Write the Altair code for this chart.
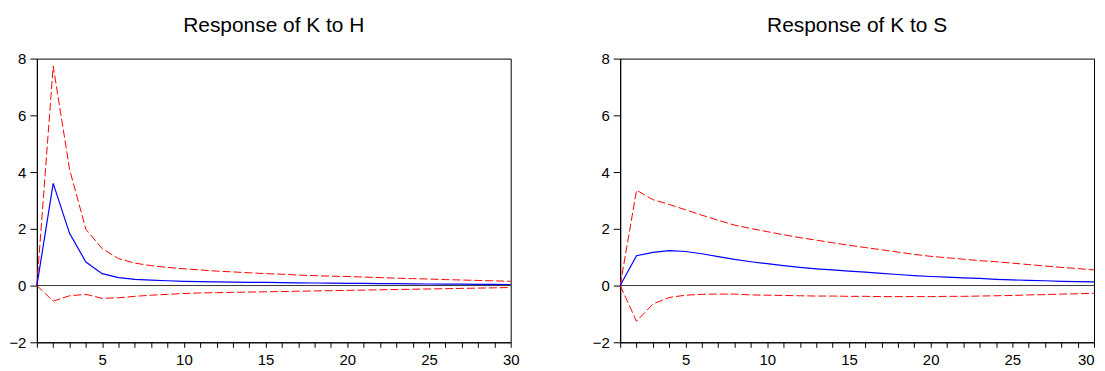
import altair as alt
import pandas as pd

periods = list(range(1, 31))

# Response of K to H
kh_resp = [0.00, 3.60, 1.84, 0.83, 0.42, 0.28, 0.22, 0.19, 0.17, 0.15,
           0.14, 0.13, 0.12, 0.115, 0.11, 0.10, 0.095, 0.09, 0.085, 0.08,
           0.075, 0.07, 0.065, 0.06, 0.055, 0.05, 0.047, 0.043, 0.04, 0.037]
kh_hi = [0.00, 7.74, 4.10, 1.98, 1.30, 0.95, 0.79, 0.70, 0.64, 0.59,
         0.55, 0.51, 0.48, 0.45, 0.42, 0.40, 0.37, 0.35, 0.33, 0.32,
         0.30, 0.28, 0.26, 0.245, 0.23, 0.21, 0.195, 0.18, 0.165, 0.15]
kh_lo = [0.00, -0.55, -0.36, -0.31, -0.45, -0.43, -0.38, -0.34, -0.31, -0.28,
         -0.26, -0.25, -0.24, -0.23, -0.22, -0.21, -0.20, -0.19, -0.18, -0.17,
         -0.16, -0.15, -0.14, -0.13, -0.12, -0.11, -0.10, -0.09, -0.08, -0.07]

# Response of K to S
ks_resp = [0.00, 1.05, 1.17, 1.23, 1.20, 1.12, 1.02, 0.92, 0.84, 0.77,
           0.70, 0.64, 0.59, 0.55, 0.51, 0.47, 0.43, 0.39, 0.35, 0.32,
           0.30, 0.27, 0.25, 0.22, 0.20, 0.18, 0.17, 0.15, 0.14, 0.13]
ks_hi = [0.00, 3.36, 3.03, 2.86, 2.67, 2.48, 2.30, 2.13, 2.01, 1.90,
         1.79, 1.69, 1.60, 1.51, 1.42, 1.34, 1.26, 1.18, 1.10, 1.03,
         0.98, 0.93, 0.88, 0.84, 0.79, 0.74, 0.69, 0.64, 0.60, 0.55]
ks_lo = [0.00, -1.26, -0.65, -0.42, -0.34, -0.31, -0.30, -0.30, -0.33, -0.34,
         -0.35, -0.36, -0.37, -0.37, -0.38, -0.38, -0.39, -0.39, -0.39, -0.39,
         -0.38, -0.38, -0.37, -0.36, -0.35, -0.33, -0.32, -0.30, -0.29, -0.27]

titles = ["Response of K to H", "Response of K to S"]
y_ticks = [-2, 0, 2, 4, 6, 8]

FONT = "Arial"


def panel(title, resp, lo, hi, flush_x):
    df = pd.DataFrame({"period": periods, "resp": resp, "lo": lo, "hi": hi})
    x = alt.X("period:Q",
              scale=alt.Scale(domain=[1, 30], nice=False, zero=False),
              axis=alt.Axis(values=periods, title=None, tickSize=5, grid=False,
                            labelFlush=flush_x, labelOverlap=False,
                            labelExpr="datum.value % 5 === 0 ? datum.label : ''",
                            labelPadding=5))
    yax = alt.Axis(values=y_ticks, title=None, tickSize=7, labelPadding=4,
                   grid=False, labelFlush=False, labelOverlap=False)
    ysc = alt.Scale(domain=[-2, 8], nice=False, zero=False)
    base = alt.Chart(df)
    zero = alt.Chart(pd.DataFrame({"z": [0]})).mark_rule(
        color="#333333", strokeWidth=1).encode(y=alt.Y("z:Q", scale=ysc, axis=yax))
    blue = base.mark_line(color="#0000FF", strokeWidth=1.2).encode(
        x=x, y=alt.Y("resp:Q", scale=ysc, axis=yax))
    upper = base.mark_line(color="#FF0000", strokeWidth=1, strokeDash=[8, 3]).encode(
        x=x, y=alt.Y("hi:Q", scale=ysc, axis=yax))
    lower = base.mark_line(color="#FF0000", strokeWidth=1, strokeDash=[8, 3]).encode(
        x=x, y=alt.Y("lo:Q", scale=ysc, axis=yax))
    return alt.layer(zero, upper, lower, blue).properties(
        width=476, height=285,
        title=alt.TitleParams(title, font=FONT, fontSize=21, fontWeight="normal",
                              color="black", anchor="middle", frame="group",
                              offset=16))


left = panel(titles[0], kh_resp, kh_lo, kh_hi, False)
right = panel(titles[1], ks_resp, ks_lo, ks_hi, True)

chart = alt.hconcat(left, right, spacing=72).properties(
    padding={"left": 0, "top": 5, "right": 0, "bottom": 0},
    background="white"
).configure_view(
    stroke="black", strokeWidth=1
).configure_axis(
    grid=False, domainColor="black", tickColor="black", labelColor="black",
    labelFont=FONT, labelFontSize=15, domainWidth=1, tickWidth=1
)

chart.save("out.html", embed_options={"renderer": "svg", "actions": False})
